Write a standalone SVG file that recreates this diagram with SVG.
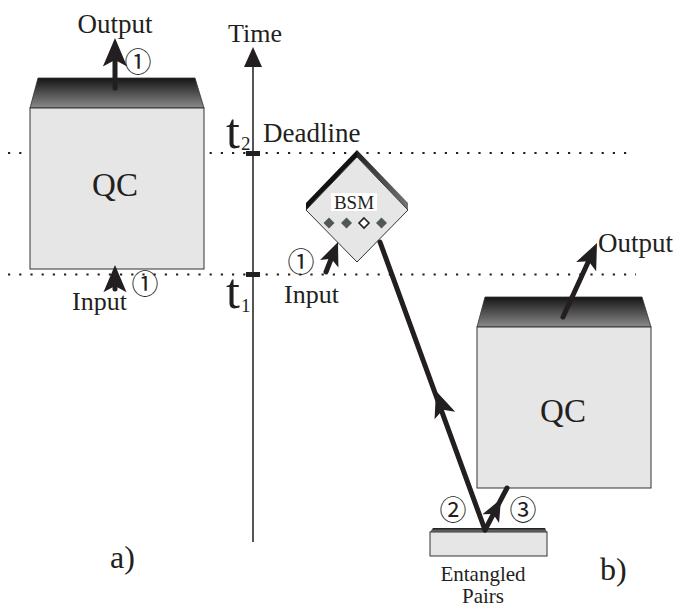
<svg xmlns="http://www.w3.org/2000/svg" width="681" height="610" viewBox="0 0 681 610">
<style>
.t{font-family:"Liberation Serif","Times New Roman",serif;fill:#231f20}
.c{font-family:"Noto Sans CJK JP","DejaVu Sans",sans-serif;fill:#231f20;font-size:27px;text-anchor:middle;dominant-baseline:central}
.dot{stroke:#231f20;stroke-width:2.2;stroke-dasharray:2.2 9;fill:none}
.box{fill:#e6e6e6;stroke:#333;stroke-width:1}
.shaft{stroke:#231f20;stroke-width:5;stroke-linecap:round;fill:none}
.ah{fill:#231f20}
</style>
<defs>
<linearGradient id="cap" x1="0" y1="0" x2="0" y2="1">
<stop offset="0" stop-color="#151515"/>
<stop offset="1" stop-color="#8a8a8a"/>
</linearGradient>
<linearGradient id="rband" x1="0" y1="0" x2="1" y2="1">
<stop offset="0" stop-color="#222"/>
<stop offset="1" stop-color="#777"/>
</linearGradient>
<path id="ah" d="M0,0 L-26,-11 L-20,0 L-26,11 Z"/>
</defs>

<!-- dotted time lines -->
<g id="timelines">
<line class="dot" x1="8" y1="153" x2="634" y2="153"/>
<line class="dot" x1="8" y1="274.5" x2="636" y2="274.5"/>
</g>

<!-- time axis -->
<g id="time-axis">
<line x1="253" y1="60" x2="253" y2="542" stroke="#555" stroke-width="2"/>
<polygon points="253,47 244,67 262,67" fill="#231f20"/>
<rect x="246" y="151" width="14" height="5" fill="#231f20"/>
<rect x="246" y="272" width="14" height="5" fill="#231f20"/>
<text class="t" x="228" y="42" font-size="26">Time</text>
<text class="t" x="226" y="148" font-size="50">t</text>
<text class="t" x="241" y="150" font-size="19">2</text>
<text class="t" x="226" y="308" font-size="50">t</text>
<text class="t" x="241" y="312" font-size="19">1</text>
<text class="t" x="263" y="142" font-size="27">Deadline</text>
</g>

<!-- a) left QC -->
<g id="qc-a">
<polygon points="38,78 195,78 204,108 30,108" fill="url(#cap)" stroke="#333" stroke-width="0.8"/>
<rect class="box" x="30" y="108" width="174" height="161"/>
<text class="t" x="115" y="196" font-size="33" text-anchor="middle">QC</text>
</g>

<!-- BSM -->
<g id="bsm">
<polygon points="306,210 357,157 357,150 306,203" fill="#111"/>
<polygon points="357,157 408,210 408,203 357,150" fill="url(#rband)"/>
<polygon class="box" points="357,157 408,210 357,262 306,210"/>
<rect x="331" y="193" width="46" height="18" fill="#fff"/>
<text class="t" x="354" y="209" font-size="19" text-anchor="middle">BSM</text>
<polygon points="329,217.5 334.5,223 329,228.5 323.5,223" fill="#505858"/>
<polygon points="346.5,217.5 352,223 346.5,228.5 341,223" fill="#505858"/>
<polygon points="364,218 369,223 364,228 359,223" fill="#fff" stroke="#231f20" stroke-width="1.6"/>
<polygon points="381.5,217.5 387,223 381.5,228.5 376,223" fill="#505858"/>
</g>

<!-- b) right QC -->
<g id="qc-b">
<polygon points="485,297 642,297 651,327 477,327" fill="url(#cap)" stroke="#333" stroke-width="0.8"/>
<rect class="box" x="477" y="327" width="174" height="161"/>
<text class="t" x="563" y="422" font-size="33" text-anchor="middle">QC</text>
</g>

<!-- Entangled pairs source -->
<g id="pairs">
<polygon points="433,528 545,528 547,532 430,532" fill="url(#cap)"/>
<rect class="box" x="430" y="532" width="117" height="24"/>
<text class="t" x="483" y="581" font-size="21" text-anchor="middle">Entangled</text>
<text class="t" x="483" y="603" font-size="21" text-anchor="middle">Pairs</text>
</g>

<!-- connectors -->
<g id="connectors">
<!-- left output -->
<line class="shaft" x1="115" y1="88" x2="115" y2="55"/>
<use href="#ah" class="ah" transform="translate(115,38) rotate(-90) scale(1.1)"/>
<!-- left input -->
<line class="shaft" x1="115" y1="289" x2="115" y2="280"/>
<use href="#ah" class="ah" transform="translate(115,265) rotate(-90) scale(1.05)"/>
<!-- BSM input -->
<line class="shaft" x1="326" y1="272" x2="333" y2="254"/>
<use href="#ah" class="ah" transform="translate(338,242) rotate(-68) scale(0.9)"/>
<!-- long line pairs to BSM -->
<line class="shaft" x1="485" y1="530" x2="380" y2="242"/>
<use href="#ah" class="ah" transform="translate(436,391) rotate(-110)"/>
<!-- pairs to right QC -->
<line class="shaft" x1="485" y1="530" x2="507" y2="488"/>
<use href="#ah" class="ah" transform="translate(501,499) rotate(-62.4) scale(0.85)"/>
<!-- right output -->
<line class="shaft" x1="563" y1="317" x2="590" y2="258"/>
<use href="#ah" class="ah" transform="translate(597,243) rotate(-65.3)"/>
</g>

<!-- labels -->
<g id="labels">
<text class="t" x="115" y="33" font-size="27" text-anchor="middle">Output</text>
<text class="c" x="138" y="60">①</text>
<text class="t" x="72" y="310" font-size="26">Input</text>
<text class="c" x="145" y="282">①</text>
<text class="c" x="301" y="260">①</text>
<text class="t" x="284" y="303" font-size="26">Input</text>
<text class="c" x="453" y="508">②</text>
<text class="c" x="523" y="508">③</text>
<text class="t" x="598" y="252" font-size="27">Output</text>
<text class="t" x="110" y="568" font-size="32">a)</text>
<text class="t" x="600" y="580" font-size="32">b)</text>
</g>
</svg>
